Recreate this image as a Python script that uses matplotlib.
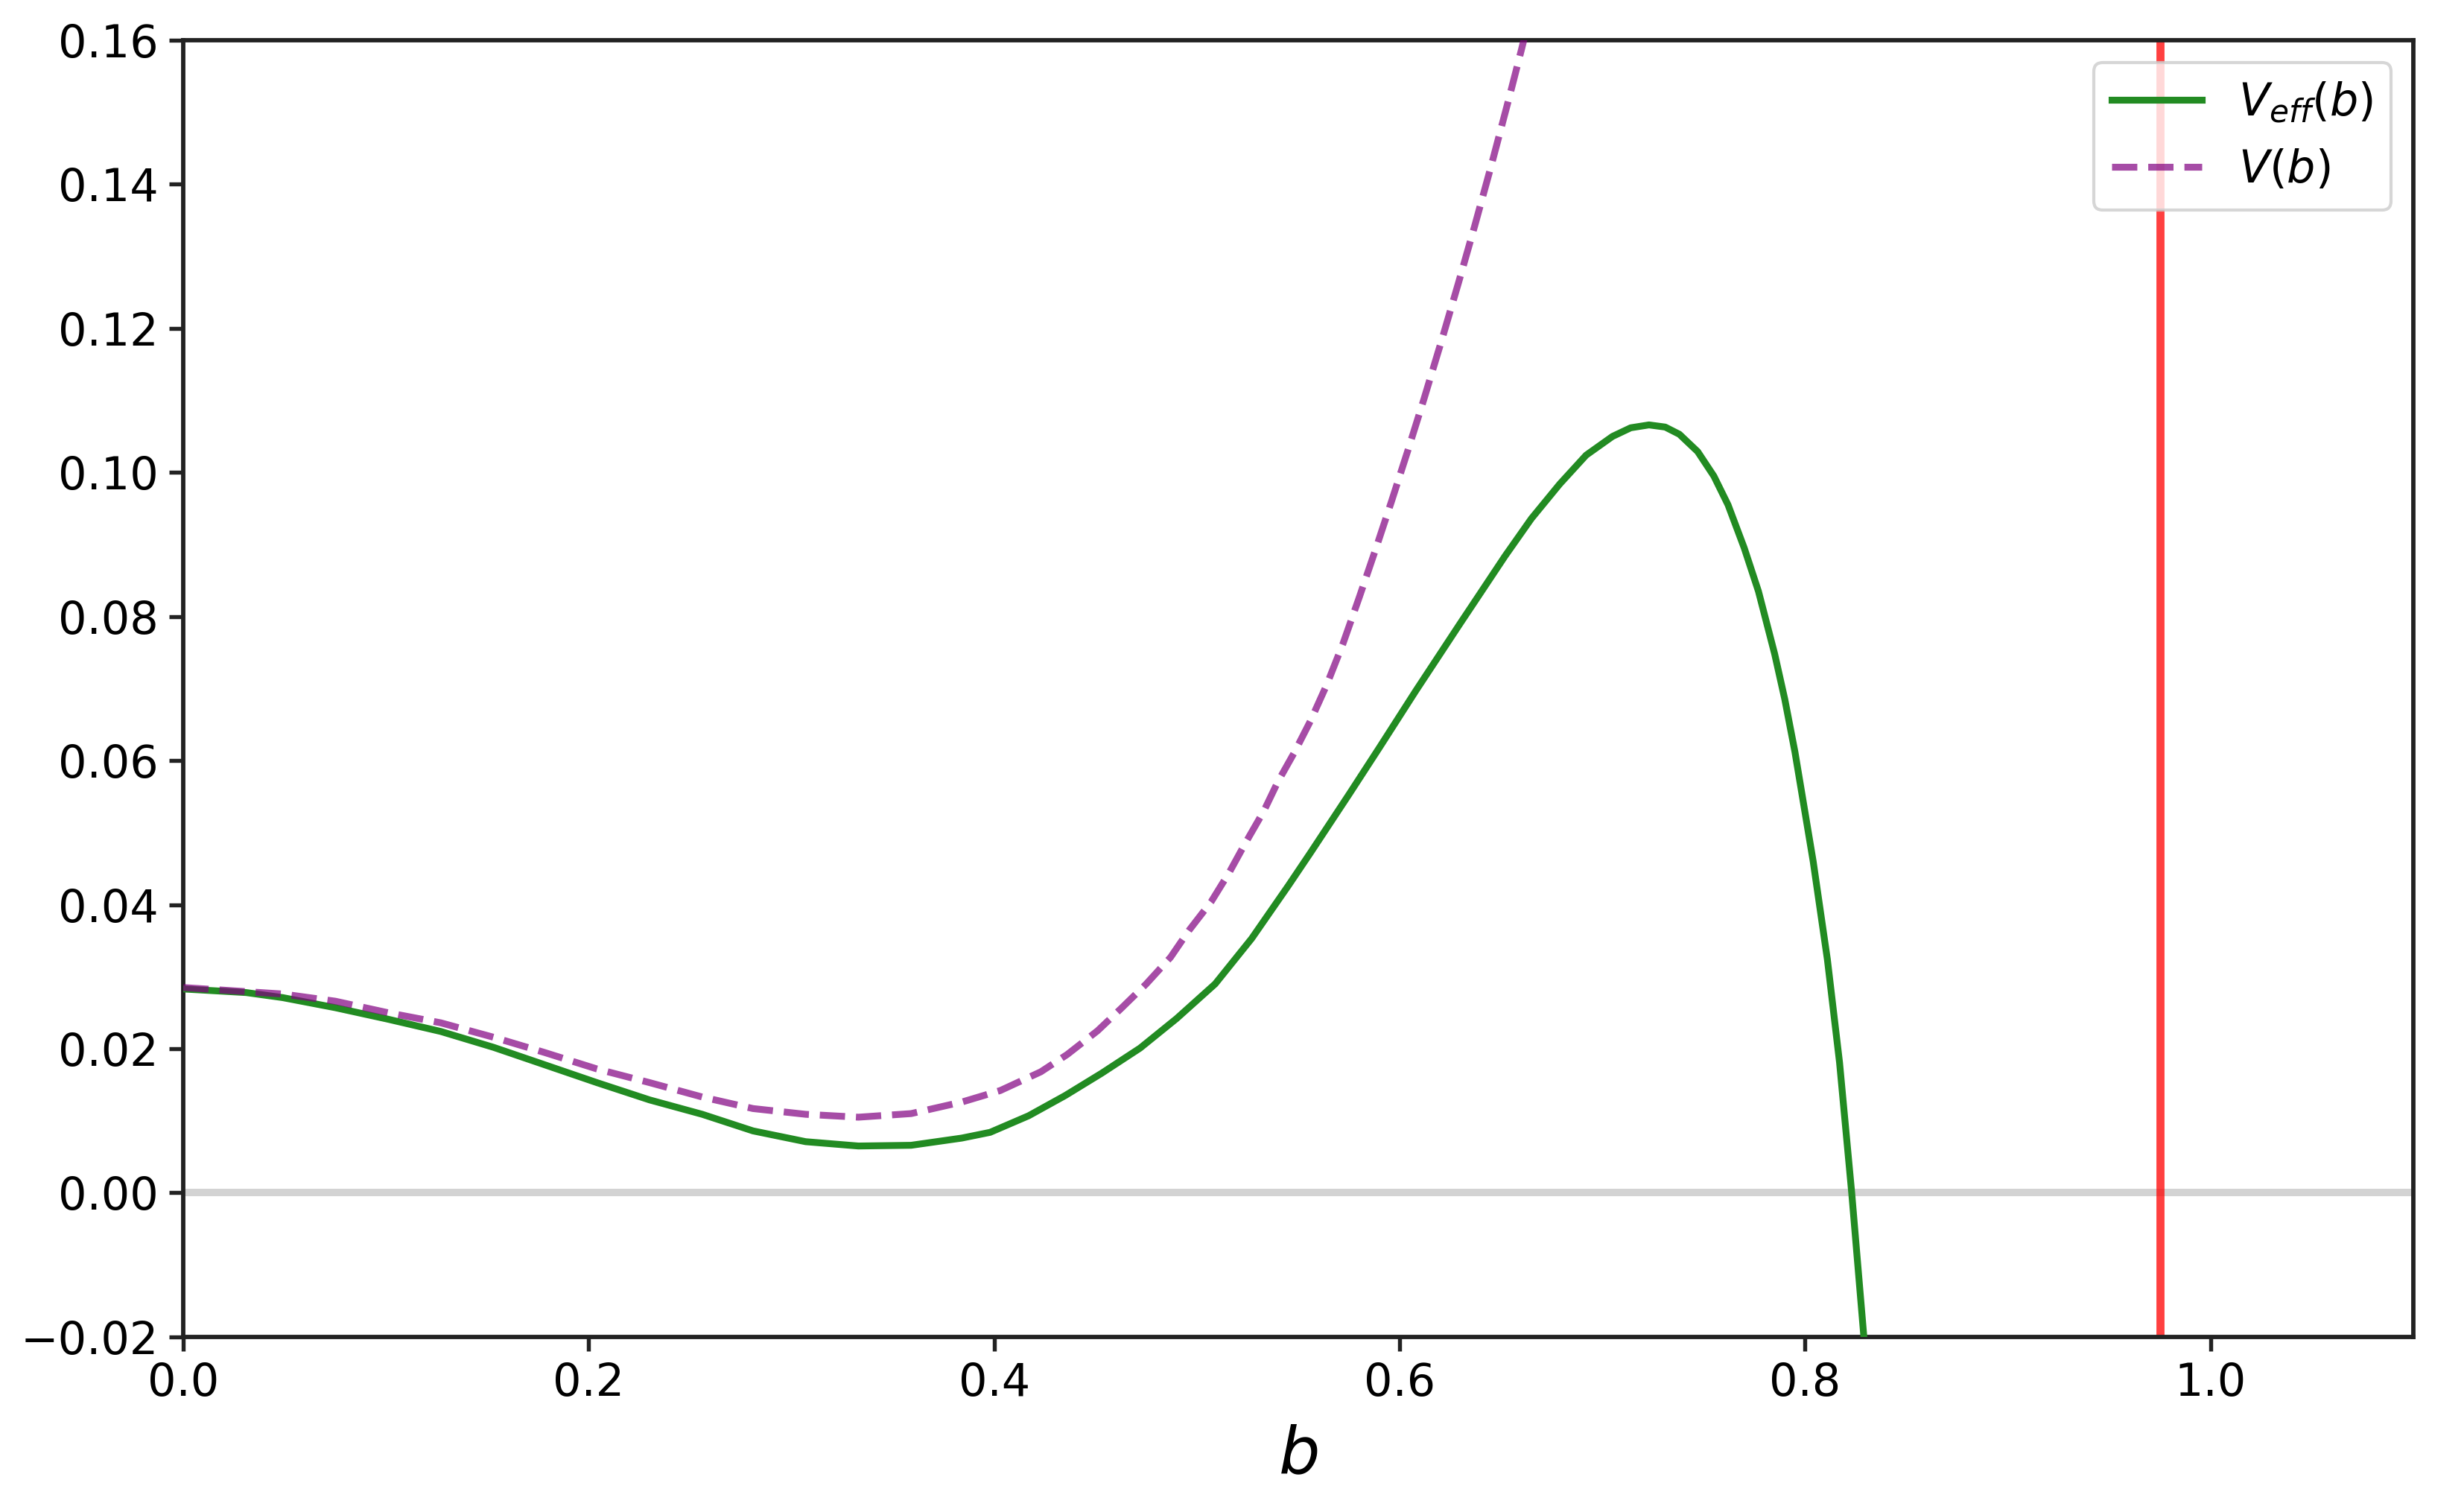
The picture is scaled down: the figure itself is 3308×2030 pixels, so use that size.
import numpy as np
import matplotlib
matplotlib.use("Agg")
import matplotlib.pyplot as plt

# curves
b_eff = [0.000, 0.031, 0.049, 0.075, 0.101, 0.127, 0.153, 0.178, 0.204, 0.230,
         0.256, 0.281, 0.307, 0.333, 0.359, 0.384, 0.398, 0.417, 0.435, 0.453,
         0.472, 0.490, 0.509, 0.527, 0.545, 0.556, 0.575, 0.590, 0.608, 0.630,
         0.639, 0.652, 0.665, 0.679, 0.692, 0.705, 0.714, 0.723, 0.731, 0.738,
         0.747, 0.755, 0.762, 0.770, 0.777, 0.785, 0.790, 0.795, 0.804, 0.811,
         0.817, 0.823, 0.829, 0.832]
v_eff = [0.0283, 0.0278, 0.0271, 0.0257, 0.0241, 0.0224, 0.0202, 0.0178, 0.0153, 0.0129,
         0.0109, 0.0086, 0.0071, 0.0065, 0.0066, 0.0076, 0.0084, 0.0107, 0.0135, 0.0166,
         0.0201, 0.0242, 0.0290, 0.0353, 0.0426, 0.0472, 0.0553, 0.0618, 0.0697, 0.0791,
         0.0829, 0.0884, 0.0936, 0.0984, 0.1024, 0.1050, 0.1062, 0.1066, 0.1063, 0.1053,
         0.1029, 0.0995, 0.0955, 0.0895, 0.0835, 0.0748, 0.0685, 0.0612, 0.0460, 0.0324,
         0.0181, 0.0000, -0.0200, -0.0300]

b_v = [0.000, 0.049, 0.075, 0.101, 0.127, 0.153, 0.178, 0.204, 0.230, 0.256,
       0.281, 0.307, 0.333, 0.359, 0.384, 0.403, 0.423, 0.436, 0.451, 0.463,
       0.475, 0.487, 0.496, 0.507, 0.516, 0.524, 0.533, 0.540, 0.548, 0.556,
       0.564, 0.572, 0.580, 0.588, 0.596, 0.604, 0.612, 0.621, 0.629, 0.637,
       0.645, 0.654, 0.660, 0.666]
v_v = [0.0285, 0.0276, 0.0266, 0.0250, 0.0236, 0.0216, 0.0195, 0.0172, 0.0153, 0.0133,
       0.0117, 0.0109, 0.0105, 0.0110, 0.0126, 0.0142, 0.0168, 0.0192, 0.0225, 0.0257,
       0.0290, 0.0327, 0.0364, 0.0404, 0.0445, 0.0486, 0.0530, 0.0571, 0.0611, 0.0655,
       0.0705, 0.0762, 0.0826, 0.0892, 0.0960, 0.1030, 0.1102, 0.1186, 0.1263, 0.1342,
       0.1424, 0.1520, 0.1586, 0.1654]

b_wall = 0.975

fig = plt.figure(figsize=(3308 / 300, 2030 / 300), dpi=300)
ax = fig.add_axes([0.0744, 0.1158, 0.905, 0.8576])

ax.axhline(0, color="lightgray", lw=2.4, zorder=1)
ax.plot(b_eff, v_eff, color="forestgreen", lw=2.2, label=r"$V_{eff}(b)$", zorder=3)
ax.plot(b_v, v_v, "--", color="purple", alpha=0.7, lw=2.2, label=r"$V(b)$", zorder=3)
ax.axvline(b_wall, color="red", alpha=0.75, lw=2.6, zorder=2)

ax.set_xlim(0, 1.1)
ax.set_ylim(-0.02, 0.16)
ax.set_xticks(np.arange(0, 1.01, 0.2))
ax.set_yticks(np.arange(-0.02, 0.161, 0.02))
ax.set_xlabel(r"$b$", fontsize=21, labelpad=6)

for s in ax.spines.values():
    s.set_linewidth(1.4)
    s.set_color("#222222")
ax.tick_params(labelsize=14.5, length=4.5, width=1.3, color="#222222")

ax.legend(loc="upper right", fontsize=14.5)

fig.savefig("out.png", dpi=300)
